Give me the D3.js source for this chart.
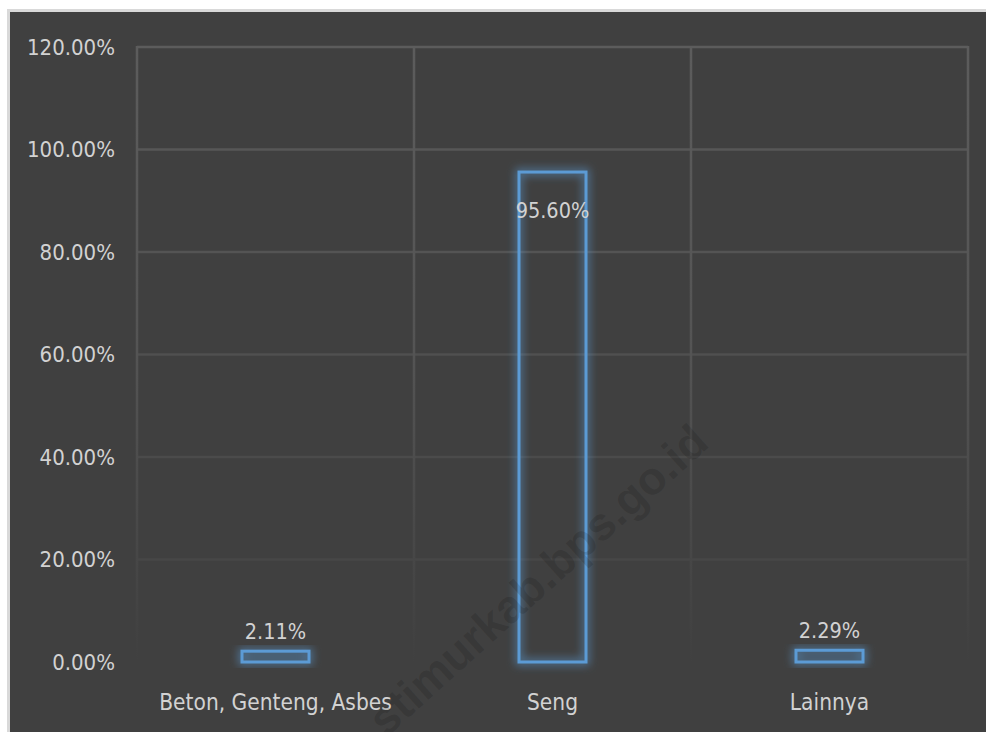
<!DOCTYPE html>
<html>
<head>
<meta charset="utf-8">
<script src="https://d3js.org/d3.v7.min.js"></script>
<style>
body { margin: 0; background: #ffffff; }
svg { display: block; }
.tick-label, .cat-label, .val-label {
    font-family: "Liberation Sans Narrow", "DejaVu Sans Condensed", "Roboto", sans-serif;
    fill: #d2d2d2;
}
</style>
</head>
<body>
<svg id="chart"></svg>
<script>
// data
var categories = ["Beton, Genteng, Asbes", "Seng", "Lainnya"];
var values = [0.0211, 0.956, 0.0229];
var valueLabels = ["2.11%", "95.60%", "2.29%"];
var yTicks = [0, 0.2, 0.4, 0.6, 0.8, 1.0, 1.2];

var W = 986, H = 732;
var plotLeft = 137, plotRight = 968, plotTop = 47, plotBottom = 662;

var svg = d3.select("#chart").attr("width", W).attr("height", H);

// frame
svg.append("rect").attr("x", 7).attr("y", 9).attr("width", W - 7).attr("height", H - 9).attr("fill", "#d9d9d9");
svg.append("rect").attr("x", 10).attr("y", 12).attr("width", W - 10).attr("height", H - 12).attr("fill", "#404040");

var defs = svg.append("defs");

var vgrad = defs.append("linearGradient").attr("id", "vfade")
    .attr("gradientUnits", "userSpaceOnUse")
    .attr("x1", 0).attr("y1", plotTop).attr("x2", 0).attr("y2", plotBottom);
vgrad.append("stop").attr("offset", "0%").attr("stop-color", "#5c5c5c");
vgrad.append("stop").attr("offset", "50%").attr("stop-color", "#545454");
vgrad.append("stop").attr("offset", "100%").attr("stop-color", "#404040");

// glow around the bar outline, both outward and inward
var glow = defs.append("filter").attr("id", "glow")
    .attr("x", "-50%").attr("y", "-50%").attr("width", "200%").attr("height", "200%");
glow.append("feMorphology").attr("in", "SourceGraphic").attr("operator", "dilate").attr("radius", 2).attr("result", "fat");
glow.append("feGaussianBlur").attr("in", "fat").attr("stdDeviation", 4).attr("result", "blur");
glow.append("feComponentTransfer").attr("in", "blur").attr("result", "soft")
    .append("feFuncA").attr("type", "linear").attr("slope", 0.55);
var gm = glow.append("feMerge");
gm.append("feMergeNode").attr("in", "soft");
gm.append("feMergeNode").attr("in", "SourceGraphic");

var x = d3.scaleBand().domain(categories).range([plotLeft, plotRight]).paddingInner(0).paddingOuter(0);
var y = d3.scaleLinear().domain([0, 1.2]).range([plotBottom, plotTop]);

// horizontal grid
svg.append("g").selectAll("line")
    .data(yTicks.filter(function(d) { return d > 0; }))
    .enter().append("line")
    .attr("x1", plotLeft).attr("x2", plotRight)
    .attr("y1", function(d) { return y(d); })
    .attr("y2", function(d) { return y(d); })
    .attr("stroke", "#5c5c5c")
    .attr("stroke-width", 2.5)
    .attr("stroke-opacity", function(d) { return 0.1 + 0.9 * d / 1.2; });

// vertical grid at band edges
var edges = categories.map(function(c) { return x(c); }).concat([plotRight]);
svg.append("g").selectAll("line")
    .data(edges)
    .enter().append("line")
    .attr("x1", function(d) { return d; }).attr("x2", function(d) { return d; })
    .attr("y1", plotTop - 1).attr("y2", plotBottom)
    .attr("stroke", "url(#vfade)")
    .attr("stroke-width", 2.5);

// y tick labels
svg.append("g").selectAll("text")
    .data(yTicks)
    .enter().append("text")
    .attr("class", "tick-label")
    .attr("x", 115)
    .attr("y", function(d) { return y(d); })
    .attr("dy", "0.35em")
    .attr("text-anchor", "end")
    .attr("font-size", 22)
    .text(function(d) { return d3.format(".2%")(d); });

// bars
var barW = 67;
svg.append("g").selectAll("rect")
    .data(values)
    .enter().append("rect")
    .attr("x", function(d, i) { return x(categories[i]) + x.bandwidth() / 2 - barW / 2; })
    .attr("y", function(d) { return y(d); })
    .attr("width", barW)
    .attr("height", function(d) { return plotBottom - y(d); })
    .attr("fill", "none")
    .attr("stroke", "#5b9bd5")
    .attr("stroke-width", 3)
    .attr("filter", "url(#glow)");

// value labels
svg.append("g").selectAll("text")
    .data(values)
    .enter().append("text")
    .attr("class", "val-label")
    .attr("x", function(d, i) { return x(categories[i]) + x.bandwidth() / 2; })
    .attr("y", function(d) { return d > 0.5 ? y(d) + 38 : y(d) - 20; })
    .attr("dy", "0.35em")
    .attr("text-anchor", "middle")
    .attr("font-size", 21.5)
    .text(function(d, i) { return valueLabels[i]; });

// category labels
svg.append("g").selectAll("text")
    .data(categories)
    .enter().append("text")
    .attr("class", "cat-label")
    .attr("x", function(d) { return x(d) + x.bandwidth() / 2; })
    .attr("y", 702)
    .attr("dy", "0.35em")
    .attr("text-anchor", "middle")
    .attr("font-size", 22.5)
    .text(function(d) { return d; });

// watermark on top
svg.append("text")
    .attr("transform", "translate(386,738) rotate(-42)")
    .attr("font-family", "Liberation Sans, Arial, sans-serif")
    .attr("font-weight", "bold")
    .attr("font-size", 46)
    .attr("fill", "#000000")
    .attr("fill-opacity", 0.14)
    .text("stimurkab.bps.go.id");
</script>
</body>
</html>
